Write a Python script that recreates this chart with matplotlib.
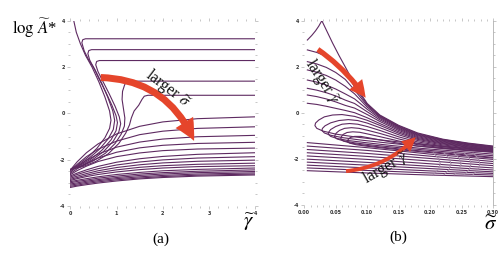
import matplotlib
matplotlib.use('Agg')
import matplotlib.pyplot as plt
from matplotlib.patches import FancyArrowPatch

plt.rcParams['font.family'] = ['Liberation Serif', 'DejaVu Serif']
plt.rcParams['mathtext.fontset'] = 'stix'

LINE = '#5e2a61'
LIGHT = '#a58aa7'
RED = '#e5452b'

# ---------------- panel (a): log A* vs gamma ----------------
# lower fan, y values on a shared gamma grid
fan_x = [0, 0.15, 0.35, 0.6, 1.0, 1.5, 2.0, 2.75, 4.0]
fan_y = [
    [-2.45, -2.09, -1.70, -1.32, -0.89, -0.56, -0.37, -0.23, -0.15],
    [-2.50, -2.20, -1.87, -1.55, -1.20, -0.92, -0.77, -0.65, -0.58],
    [-2.55, -2.30, -2.03, -1.76, -1.46, -1.24, -1.11, -1.01, -0.95],
    [-2.60, -2.39, -2.16, -1.93, -1.68, -1.49, -1.38, -1.30, -1.25],
    [-2.65, -2.47, -2.28, -2.08, -1.87, -1.71, -1.61, -1.54, -1.50],
    [-2.70, -2.58, -2.44, -2.29, -2.11, -1.96, -1.86, -1.77, -1.70],
    [-2.75, -2.64, -2.52, -2.39, -2.23, -2.10, -2.01, -1.93, -1.87],
    [-2.80, -2.71, -2.60, -2.48, -2.34, -2.22, -2.14, -2.07, -2.02],
    [-2.85, -2.77, -2.67, -2.56, -2.44, -2.33, -2.26, -2.20, -2.15],
    [-2.90, -2.82, -2.73, -2.64, -2.53, -2.43, -2.36, -2.30, -2.26],
    [-2.95, -2.89, -2.82, -2.74, -2.64, -2.55, -2.48, -2.42, -2.36],
    [-3.00, -2.94, -2.88, -2.80, -2.71, -2.62, -2.56, -2.50, -2.44],
    [-3.05, -3.00, -2.93, -2.86, -2.77, -2.68, -2.62, -2.56, -2.51],
    [-3.10, -3.05, -2.98, -2.91, -2.82, -2.74, -2.68, -2.62, -2.57],
    [-3.15, -3.10, -3.03, -2.96, -2.87, -2.79, -2.73, -2.67, -2.62],
    [-3.20, -3.14, -3.08, -3.01, -2.92, -2.83, -2.77, -2.71, -2.66],
]

# S-shaped curves (upper flat branch, hook, C-bend down to gamma = 0)
s_curves_a = [
    [(0.07, 4.05), (0.13, 3.5), (0.22, 3.0), (0.33, 2.5), (0.47, 2.0), (0.62, 1.35),
     (0.75, 0.7), (0.85, 0.1), (0.88, -0.3), (0.85, -0.65), (0.75, -1.05),
     (0.58, -1.5), (0.38, -1.9), (0.18, -2.2), (0.0, -2.43)],
    [(4, 3.22), (0.33, 3.22), (0.27, 3.18), (0.25, 3.05), (0.3, 2.7), (0.4, 2.3),
     (0.53, 1.9), (0.68, 1.3), (0.81, 0.7), (0.92, 0.1), (0.96, -0.3), (0.93, -0.7),
     (0.82, -1.1), (0.63, -1.55), (0.41, -1.93), (0.2, -2.22), (0.0, -2.43)],
    [(4, 2.75), (0.46, 2.75), (0.4, 2.71), (0.38, 2.58), (0.42, 2.3), (0.5, 2.0),
     (0.62, 1.5), (0.76, 0.95), (0.9, 0.35), (0.99, -0.1), (1.02, -0.4), (0.99, -0.75),
     (0.88, -1.15), (0.68, -1.6), (0.45, -1.97), (0.22, -2.24), (0.0, -2.43)],
    [(4, 2.28), (0.63, 2.28), (0.57, 2.24), (0.55, 2.1), (0.6, 1.8), (0.7, 1.4),
     (0.84, 0.85), (0.97, 0.3), (1.06, -0.15), (1.09, -0.45), (1.05, -0.8),
     (0.93, -1.2), (0.72, -1.65), (0.48, -2.0), (0.24, -2.26), (0.0, -2.43)],
    [(4, 1.39), (1.28, 1.39), (1.2, 1.35), (1.17, 1.2), (1.13, 0.95), (1.12, 0.6),
     (1.15, 0.2), (1.18, -0.2), (1.17, -0.55), (1.1, -0.9), (0.97, -1.3),
     (0.76, -1.72), (0.5, -2.05), (0.25, -2.28), (0.0, -2.43)],
    [(4, 0.78), (1.68, 0.78), (1.6, 0.74), (1.55, 0.6), (1.48, 0.35), (1.38, 0.1),
     (1.32, -0.2), (1.28, -0.5), (1.2, -0.85), (1.05, -1.3), (0.82, -1.75),
     (0.55, -2.08), (0.27, -2.3), (0.0, -2.43)],
]

# ---------------- panel (b): log A* vs sigma ----------------
# envelope, reached by the top curve after its peak
env_x = [0.028, 0.035, 0.045, 0.055, 0.065, 0.08, 0.1, 0.12, 0.15, 0.18, 0.22, 0.26, 0.3]
env_y = [4.0, 3.6, 3.03, 2.5, 2.0, 1.24, 0.4, -0.1, -0.55, -0.88, -1.15, -1.32, -1.45]
peak_x = [0.005, 0.012, 0.018, 0.023]
peak_y = [3.16, 3.36, 3.56, 3.76]

# upper curves starting at sigma ~ 0 and merging into the envelope
up_x = [0.005, 0.02, 0.035, 0.05, 0.065, 0.08, 0.1, 0.12, 0.15, 0.18, 0.22, 0.26, 0.3]
up_y = [
    [2.73, 2.62, 2.45, 2.2, 1.82, 1.12, 0.36, -0.13, -0.58, -0.91, -1.17, -1.34, -1.47],
    [2.22, 2.12, 1.97, 1.75, 1.45, 0.98, 0.31, -0.16, -0.61, -0.94, -1.19, -1.36, -1.49],
    [1.86, 1.76, 1.62, 1.42, 1.15, 0.82, 0.24, -0.2, -0.64, -0.97, -1.21, -1.38, -1.51],
    [1.42, 1.33, 1.2, 1.03, 0.82, 0.6, 0.15, -0.25, -0.68, -1.0, -1.24, -1.4, -1.53],
    [1.06, 0.98, 0.87, 0.73, 0.55, 0.4, 0.04, -0.31, -0.72, -1.04, -1.27, -1.43, -1.55],
    [0.77, 0.7, 0.6, 0.47, 0.32, 0.2, -0.08, -0.38, -0.77, -1.08, -1.3, -1.45, -1.57],
    [0.41, 0.36, 0.28, 0.19, 0.1, 0.0, -0.22, -0.47, -0.83, -1.12, -1.33, -1.48, -1.59],
]

# curves with a nose on the left: both arms run out to the right edge
nose_curves_b = [
    [(0.3, -1.61), (0.26, -1.5), (0.22, -1.36), (0.18, -1.16), (0.15, -0.89), (0.12, -0.55),
     (0.1, -0.33), (0.08, -0.16), (0.06, -0.08), (0.045, -0.1), (0.032, -0.18),
     (0.023, -0.32), (0.018, -0.45), (0.017, -0.56), (0.02, -0.68), (0.03, -0.8),
     (0.05, -0.93), (0.08, -1.05), (0.12, -1.18), (0.17, -1.33), (0.23, -1.49), (0.3, -1.64)],
    [(0.3, -1.63), (0.26, -1.53), (0.22, -1.4), (0.18, -1.21), (0.15, -0.96), (0.12, -0.65),
     (0.1, -0.45), (0.085, -0.34), (0.07, -0.3), (0.055, -0.34), (0.042, -0.44),
     (0.033, -0.57), (0.029, -0.68), (0.028, -0.77), (0.032, -0.88), (0.042, -0.98),
     (0.06, -1.08), (0.09, -1.19), (0.13, -1.31), (0.18, -1.45), (0.24, -1.59), (0.3, -1.72)],
    [(0.3, -1.65), (0.26, -1.56), (0.22, -1.44), (0.18, -1.27), (0.15, -1.05), (0.12, -0.77),
     (0.1, -0.6), (0.085, -0.5), (0.072, -0.47), (0.06, -0.5), (0.05, -0.6),
     (0.042, -0.73), (0.039, -0.84), (0.038, -0.93), (0.042, -1.03), (0.052, -1.12),
     (0.07, -1.21), (0.1, -1.31), (0.14, -1.43), (0.19, -1.56), (0.245, -1.68), (0.3, -1.8)],
    [(0.3, -1.67), (0.26, -1.59), (0.22, -1.48), (0.18, -1.33), (0.15, -1.14), (0.12, -0.9),
     (0.1, -0.76), (0.087, -0.68), (0.075, -0.65), (0.064, -0.68), (0.056, -0.77),
     (0.051, -0.88), (0.049, -0.97), (0.048, -1.05), (0.052, -1.14), (0.062, -1.22),
     (0.08, -1.31), (0.11, -1.41), (0.15, -1.52), (0.2, -1.64), (0.25, -1.76), (0.3, -1.87)],
    [(0.3, -1.69), (0.26, -1.62), (0.22, -1.52), (0.18, -1.39), (0.15, -1.23), (0.12, -1.04),
     (0.1, -0.92), (0.088, -0.85), (0.077, -0.83), (0.068, -0.86), (0.062, -0.94),
     (0.059, -1.04), (0.058, -1.14), (0.062, -1.23), (0.072, -1.31), (0.09, -1.39),
     (0.12, -1.49), (0.16, -1.6), (0.21, -1.72), (0.255, -1.83), (0.3, -1.94)],
    [(0.3, -1.71), (0.26, -1.65), (0.22, -1.56), (0.18, -1.45), (0.15, -1.33), (0.12, -1.18),
     (0.1, -1.08), (0.09, -1.03), (0.08, -1.03), (0.073, -1.08), (0.07, -1.16),
     (0.068, -1.24), (0.072, -1.32), (0.082, -1.39), (0.1, -1.46), (0.13, -1.55),
     (0.17, -1.66), (0.22, -1.78), (0.26, -1.88), (0.3, -1.97)],
]

# lower, nearly flat curves
low_x = [0.005, 0.1, 0.2, 0.3]
low_y = [
    [-1.30, -1.52, -1.80, -2.03],
    [-1.45, -1.64, -1.89, -2.12],
    [-1.60, -1.77, -1.99, -2.21],
    [-1.74, -1.90, -2.10, -2.30],
    [-1.88, -2.03, -2.22, -2.40],
    [-2.02, -2.16, -2.33, -2.49],
    [-2.15, -2.28, -2.43, -2.57],
    [-2.28, -2.40, -2.53, -2.64],
    [-2.40, -2.51, -2.62, -2.71],
    [-2.52, -2.62, -2.71, -2.78],
]

# faint fold arcs in the lower right
arc_x0 = [0.205, 0.222, 0.238, 0.254, 0.268]
arc_dx = [0.0, 0.008, 0.011, 0.008, 0.0]
arc_y = [-1.75, -1.98, -2.22, -2.46, -2.7]


def frame(ax):
    for s in ax.spines.values():
        s.set_visible(False)
    ax.tick_params(which='both', direction='out', color='#b0b0b0', width=0.5,
                   top=True, right=True, pad=1)
    ax.tick_params(which='major', length=2.5)
    ax.tick_params(which='minor', length=1.5)


fig = plt.figure(figsize=(5.02, 2.54), dpi=100)
axa = fig.add_axes([0.140, 0.189, 0.3685, 0.7295])
axb = fig.add_axes([0.606, 0.194, 0.3765, 0.7245])

# ---- draw (a)
for ys in fan_y:
    axa.plot(fan_x, ys, color=LINE, lw=0.8)
for pts in s_curves_a:
    axa.plot([p[0] for p in pts], [p[1] for p in pts], color=LINE, lw=0.8)

axa.set_xlim(0, 4)
axa.set_ylim(-4, 4)
frame(axa)
tick_kw = dict(fontsize=3.5, fontweight='bold', family='DejaVu Sans', color='#333333')
axa.set_xticks([0, 1, 2, 3, 4], ['0', '1', '2', '3', '4'], **tick_kw)
axa.set_yticks([-4, -2, 0, 2, 4], ['-4', '-2', '0', '2', '4'], **tick_kw)
axa.set_xticks([i * 0.2 for i in range(21)], minor=True)
axa.set_yticks([i * 0.5 - 4 for i in range(17)], minor=True)

arr = FancyArrowPatch((0.6, 1.55), (2.7, -1.3), connectionstyle='arc3,rad=-0.33',
                      arrowstyle='simple,head_length=1.5,head_width=1.5,tail_width=0.5',
                      mutation_scale=10, color=RED, lw=0, zorder=5)
axa.add_patch(arr)
axa.text(2.11, 1.08, r'larger $\widetilde{\sigma}$', rotation=-37, ha='center', va='center',
         rotation_mode='anchor', fontsize=11.5, color='#111111', zorder=6)

# ---- draw (b)
axb.plot(peak_x + env_x, peak_y + env_y, color=LINE, lw=0.8)
for ys in up_y:
    axb.plot(up_x, ys, color=LINE, lw=0.8)
for pts in nose_curves_b:
    axb.plot([p[0] for p in pts], [p[1] for p in pts], color=LINE, lw=0.8)
for ys in low_y:
    axb.plot(low_x, ys, color=LINE, lw=0.8)
for x0 in arc_x0:
    axb.plot([x0 + d for d in arc_dx], arc_y, color=LIGHT, lw=0.8)

axb.set_xlim(0, 0.3)
axb.set_ylim(-4, 4)
frame(axb)
axb.spines['right'].set_visible(True)
axb.spines['right'].set_color('#b0b0b0')
axb.spines['right'].set_linewidth(0.6)
axb.set_xticks([0, 0.05, 0.1, 0.15, 0.2, 0.25, 0.3],
               ['0.00', '0.05', '0.10', '0.15', '0.20', '0.25', '0.30'], **tick_kw)
axb.set_yticks([-4, -2, 0, 2, 4], ['-4', '-2', '0', '2', '4'], **tick_kw)
axb.set_xticks([i * 0.01 for i in range(31)], minor=True)
axb.set_yticks([i * 0.5 - 4 for i in range(17)], minor=True)

arr1 = FancyArrowPatch((0.018, 2.82), (0.1, 0.55), connectionstyle='arc3,rad=-0.1',
                       arrowstyle='simple,head_length=1.2,head_width=1.2,tail_width=0.38',
                       mutation_scale=10, color=RED, lw=0, zorder=5)
axb.add_patch(arr1)
arr2 = FancyArrowPatch((0.062, -2.55), (0.18, -0.97), connectionstyle='arc3,rad=0.2',
                       arrowstyle='simple,head_length=1.0,head_width=1.0,tail_width=0.28',
                       mutation_scale=10, color=RED, lw=0, zorder=5)
axb.add_patch(arr2)
axb.text(0.029, 1.36, r'larger $\widetilde{\gamma}$', rotation=-57, ha='center', va='center',
         rotation_mode='anchor', fontsize=11.5, color='#111111', zorder=6)
axb.text(0.13, -2.40, r'larger $\widetilde{\gamma}$', rotation=30, ha='center', va='center',
         rotation_mode='anchor', fontsize=11.5, color='#111111', zorder=6)

# ---- labels
W, H = 502, 254
fig.text(34 / W, 1 - 28 / H, r'$\log\,\widetilde{A}$*', ha='center', va='center', fontsize=12)
fig.text(249 / W, 1 - 222 / H, r'$\widetilde{\gamma}$', ha='center', va='center', fontsize=15)
fig.text(491 / W, 1 - 225 / H, r'$\widetilde{\sigma}$', ha='center', va='center', fontsize=15)
fig.text(161 / W, 1 - 239 / H, '(a)', ha='center', va='center', fontsize=11)
fig.text(398 / W, 1 - 237 / H, '(b)', ha='center', va='center', fontsize=11)

fig.savefig('out.png', dpi=100)
